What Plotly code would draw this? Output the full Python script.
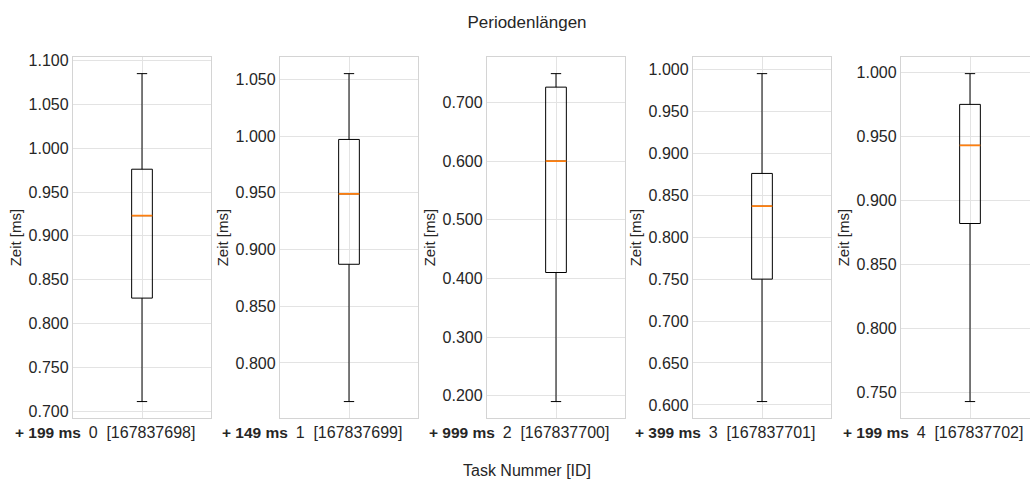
import plotly.graph_objects as go

# ---- data ----
task_ids = [0, 1, 2, 3, 4]
task_numbers = [167837698, 167837699, 167837700, 167837701, 167837702]
offsets_ms = [199, 149, 999, 399, 199]
whisker_low = [0.711, 0.766, 0.190, 0.604, 0.743]
q1_vals = [0.829, 0.887, 0.410, 0.750, 0.882]
median_vals = [0.923, 0.949, 0.600, 0.837, 0.943]
q3_vals = [0.976, 0.997, 0.726, 0.876, 0.975]
whisker_high = [1.085, 1.055, 0.749, 0.995, 0.999]
y_dticks = [0.05, 0.05, 0.1, 0.05, 0.05]

title_text = "Periodenlängen"
x_title = "Task Nummer [ID]"
y_title = "Zeit [ms]"

# ---- layout constants (pixels) ----
W, H = 1030, 486
panel_left = [73, 280, 487, 693, 901]
panel_w = 138
top_px, bottom_px = 53, 419

FONT = "Liberation Sans, Arial, sans-serif"
TXT = "#262626"
GRID = "#e3e3e3"
FRAME = "#d4d4d4"
NB = "\u00a0"

fig = go.Figure()
annotations = []

for i, tid in enumerate(task_ids):
    ax = "" if i == 0 else str(i + 1)
    xa, ya = "x" + ax, "y" + ax

    fig.add_trace(go.Box(
        x=[tid], q1=[q1_vals[i]], median=[median_vals[i]], q3=[q3_vals[i]],
        lowerfence=[whisker_low[i]], upperfence=[whisker_high[i]],
        width=0.15, whiskerwidth=0.5, boxpoints=False,
        line=dict(color="#000000", width=1), fillcolor="rgba(0,0,0,0)",
        xaxis=xa, yaxis=ya, showlegend=False, hoverinfo="skip"))
    # orange median line overlay
    fig.add_trace(go.Box(
        x=[tid], q1=[median_vals[i]], median=[median_vals[i]], q3=[median_vals[i]],
        lowerfence=[median_vals[i]], upperfence=[median_vals[i]],
        width=0.15, whiskerwidth=0, boxpoints=False,
        line=dict(color="#ff7f0e", width=1.8), fillcolor="rgba(0,0,0,0)",
        xaxis=xa, yaxis=ya, showlegend=False, hoverinfo="skip"))

    lo = whisker_low[i]
    hi = whisker_high[i]
    pad = 0.05 * (hi - lo)
    left = panel_left[i]
    right = min(left + panel_w, W)
    frac = (right - left) / panel_w
    last = (right < left + panel_w)

    fig.layout["xaxis" + ax] = dict(
        domain=[left / W, right / W], anchor=ya,
        range=[tid - 0.5, tid - 0.5 + frac], tickvals=[tid],
        ticktext=[f"{tid}{NB}{NB}[{task_numbers[i]}]"],
        showgrid=True, gridcolor=GRID, gridwidth=1.2, zeroline=False,
        showline=True, linecolor=FRAME, linewidth=1.3, mirror=True,
        ticks="", tickfont=dict(family=FONT, size=16, color=TXT),
        fixedrange=True)
    fig.layout["yaxis" + ax] = dict(
        domain=[1 - bottom_px / H, 1 - top_px / H], anchor=xa,
        range=[lo - pad, hi + pad], dtick=y_dticks[i], tick0=0,
        tickformat=".3f",
        showgrid=True, gridcolor=GRID, gridwidth=1.2, zeroline=False,
        showline=True, linecolor=FRAME, linewidth=1.3, mirror=(not last),
        ticks="", tickfont=dict(family=FONT, size=16, color=TXT),
        title=dict(text=y_title, font=dict(family=FONT, size=15, color=TXT), standoff=3),
        fixedrange=True)

    annotations.append(dict(
        text=f"<b>+ {offsets_ms[i]} ms</b>", xref="paper", yref="paper",
        x=(left - 60) / W, y=1 - 434 / H, xanchor="left", yanchor="middle",
        showarrow=False, font=dict(family=FONT, size=15.5, color=TXT)))

annotations.append(dict(
    text=x_title, xref="paper", yref="paper", x=527 / W, y=1 - 472 / H,
    xanchor="center", yanchor="middle", showarrow=False,
    font=dict(family=FONT, size=16, color=TXT)))

fig.update_layout(
    width=W, height=H, margin=dict(l=0, r=0, t=0, b=0),
    paper_bgcolor="white", plot_bgcolor="white",
    title=dict(text=title_text, x=527 / W, y=1 - 22 / H, xanchor="center",
               yanchor="middle", font=dict(family=FONT, size=17, color=TXT)),
    annotations=annotations, showlegend=False, boxmode="overlay")

fig.write_html("out.html", config={"displayModeBar": False},
               post_script="document.body.style.margin='0';document.body.style.overflow='hidden';")
